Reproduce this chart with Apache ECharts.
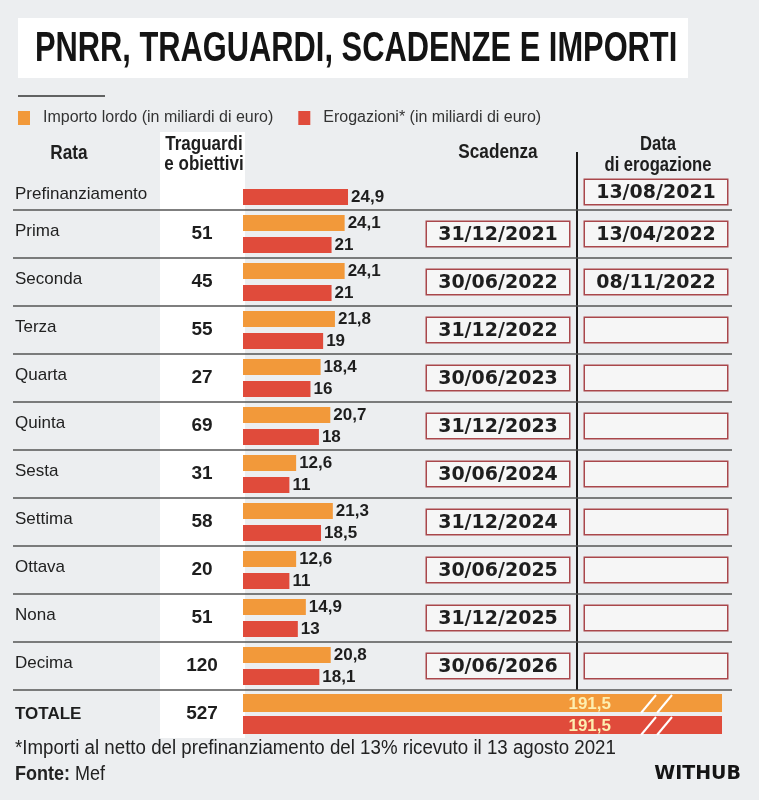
<!DOCTYPE html>
<html><head><meta charset="utf-8">
<script src="https://cdn.jsdelivr.net/npm/echarts@6/dist/echarts.min.js"></script>
<style>html,body{margin:0;padding:0;background:#eceef0}#c{width:759px;height:800px}</style>
</head><body><div id="c"></div>
<script>
// ---- data ----
const rate = ['Prefinanziamento','Prima','Seconda','Terza','Quarta','Quinta','Sesta','Settima','Ottava','Nona','Decima'];
const traguardi = [null,51,45,55,27,69,31,58,20,51,120];
const importoLordo = [null,24.1,24.1,21.8,18.4,20.7,12.6,21.3,12.6,14.9,20.8];
const erogazioni = [24.9,21,21,19,16,18,11,18.5,11,13,18.1];
const scadenze = ['','31/12/2021','30/06/2022','31/12/2022','30/06/2023','31/12/2023','30/06/2024','31/12/2024','30/06/2025','31/12/2025','30/06/2026'];
const dateErogazione = ['13/08/2021','13/04/2022','08/11/2022','','','','','','','',''];
const totaleRata = ['TOTALE'];
const totaleTraguardi = [527];
const totaleImporto = [191.5];
const totaleErogazioni = [191.5];
const serieNames = ['Importo lordo (in miliardi di euro)','Erogazioni* (in miliardi di euro)'];

// ---- style ----
const SANS = '"Liberation Sans",Arial,sans-serif';
const WIDE = '"DejaVu Sans",sans-serif';
const ORANGE = '#f2993a';
const RED = '#e04b3b';
const INK = '#1e1e1e';
const comma = v => (v == null ? '' : String(v).replace('.', ','));

const chart = echarts.init(document.getElementById('c'));
const boxStyle = {width: 138, height: 21, borderColor: '#a9474b', borderWidth: 1.5, backgroundColor: '#f6f6f6',
  align: 'center', fontFamily: WIDE, fontWeight: 'bold', fontSize: 19, color: INK, padding: [3,2,0,2]};
const boxRich = {box: boxStyle, g: {height: 12, fontSize: 1, lineHeight: 12}};
const catAxis = (grid, data, extra) => Object.assign({
  type: 'category', gridIndex: grid, data: data, inverse: true,
  axisLine: {show: false}, axisTick: {show: false}, splitLine: {show: false}
}, extra);
const barLabel = {show: true, position: 'right', distance: 3, fontFamily: SANS, fontWeight: 'bold', fontSize: 17, color: INK,
  formatter: p => comma(p.value)};
const totLabel = {show: true, position: 'insideRight', offset: [-106, 1], fontFamily: SANS, fontWeight: 'bold', fontSize: 17, color: '#fdeeb0',
  formatter: p => comma(p.value)};

const option = {
  backgroundColor: '#eceef0',
  animation: false,
  legend: {
    left: 13, top: 105, itemWidth: 12, itemHeight: 14, itemGap: 25, icon: 'rect',
    data: serieNames,
    textStyle: {fontFamily: SANS, fontSize: 16, color: '#333', padding: [0,0,0,8]}
  },
  grid: [
    {left: 243, right: 31, top: 162, bottom: 110},
    {left: 13, right: 27, top: 210, bottom: 110},
    {left: 243, right: 37, top: 690, height: 48}
  ],
  xAxis: [
    {type: 'value', gridIndex: 0, min: 0, max: 115, show: false},
    {type: 'value', gridIndex: 1, min: 0, max: 1, show: false},
    {type: 'value', gridIndex: 2, min: 0, max: 191.5, show: false}
  ],
  yAxis: [
    catAxis(0, rate, {position: 'left', axisLabel: {margin: 228, align: 'left', fontFamily: SANS, fontSize: 17, color: '#222', padding: [0,0,6,0],
      rich: {g: {height: 22, fontSize: 1, lineHeight: 22}, p: {fontFamily: SANS, fontSize: 17, color: '#222'}},
      formatter: (v, i) => i === 0 ? '{g|\u00a0}\n{p|' + v + '}' : v}}),
    catAxis(0, rate, {position: 'left', axisLabel: {margin: 41, align: 'center', fontFamily: SANS, fontWeight: 'bold', fontSize: 19, color: INK,
      formatter: (v, i) => traguardi[i] == null ? '' : String(traguardi[i])}}),
    catAxis(0, rate, {position: 'right', offset: -230, axisLabel: {margin: 0, align: 'center', rich: boxRich,
      formatter: (v, i) => scadenze[i] ? '{box|' + scadenze[i] + '}' : ''}}),
    catAxis(0, rate, {position: 'right', offset: -72, axisLabel: {margin: 0, align: 'center', rich: boxRich,
      formatter: (v, i) => (i === 0 ? '{g|\u00a0}\n' : '') + '{box|' + (dateErogazione[i] || '\u00a0') + '}'}}),
    catAxis(1, rate.slice(1), {splitLine: {show: true, lineStyle: {color: '#555', width: 1.5}}, axisLabel: {show: false}}),
    catAxis(2, totaleRata, {position: 'left', axisLabel: {margin: 228, align: 'left', fontFamily: SANS, fontWeight: 'bold', fontSize: 17, color: INK, padding: [0,0,4,0]}}),
    catAxis(2, totaleRata, {position: 'left', axisLabel: {margin: 41, align: 'center', fontFamily: SANS, fontWeight: 'bold', fontSize: 19, color: INK,
      formatter: (v, i) => String(totaleTraguardi[i])}})
  ],
  series: [
    {name: serieNames[0], type: 'bar', xAxisIndex: 0, yAxisIndex: 0, data: importoLordo, barWidth: 16, barGap: '38%',
     itemStyle: {color: ORANGE}, label: barLabel},
    {name: serieNames[1], type: 'bar', xAxisIndex: 0, yAxisIndex: 0, data: erogazioni, barWidth: 16,
     itemStyle: {color: RED}, label: barLabel},
    {name: serieNames[0], type: 'bar', xAxisIndex: 2, yAxisIndex: 5, data: totaleImporto, barWidth: 18, barGap: '22%',
     itemStyle: {color: ORANGE}, label: totLabel},
    {name: serieNames[1], type: 'bar', xAxisIndex: 2, yAxisIndex: 5, data: totaleErogazioni, barWidth: 18,
     itemStyle: {color: RED}, label: totLabel}
  ],
  graphic: [
    {type: 'rect', z: -5, shape: {x: 18, y: 18, width: 670, height: 60}, style: {fill: '#ffffff'}},
    {type: 'text', z: 10, x: 35, y: 49, scaleX: 0.734, style: {text: 'PNRR, TRAGUARDI, SCADENZE E IMPORTI', fontFamily: SANS, fontWeight: 'bold', fontSize: 42, fill: '#141414', align: 'left', verticalAlign: 'middle'}},
    {type: 'line', shape: {x1: 18, y1: 96, x2: 105, y2: 96}, style: {stroke: '#333', lineWidth: 1.5}},
    {type: 'rect', z: -5, shape: {x: 160, y: 132, width: 85, height: 606}, style: {fill: '#ffffff'}},
    {type: 'text', x: 69, y: 153, scaleX: 0.86, style: {text: 'Rata', fontFamily: SANS, fontWeight: 'bold', fontSize: 20, fill: INK, align: 'center', verticalAlign: 'middle'}},
    {type: 'text', x: 204, y: 154, scaleX: 0.85, style: {text: 'Traguardi\ne obiettivi', fontFamily: SANS, fontWeight: 'bold', fontSize: 20, lineHeight: 20, fill: INK, align: 'center', verticalAlign: 'middle'}},
    {type: 'text', x: 498, y: 152, scaleX: 0.86, style: {text: 'Scadenza', fontFamily: SANS, fontWeight: 'bold', fontSize: 20, fill: INK, align: 'center', verticalAlign: 'middle'}},
    {type: 'text', x: 658, y: 155, scaleX: 0.83, style: {text: 'Data\ndi erogazione', fontFamily: SANS, fontWeight: 'bold', fontSize: 20, lineHeight: 21, fill: INK, align: 'center', verticalAlign: 'middle'}},
    {type: 'line', shape: {x1: 577, y1: 152, x2: 577, y2: 690}, style: {stroke: '#1a1a1a', lineWidth: 2}},
    {type: 'polyline', z: 10, shape: {points: [[641, 713], [656, 695]]}, style: {stroke: '#fff', lineWidth: 2}},
    {type: 'polyline', z: 10, shape: {points: [[657, 713], [672, 695]]}, style: {stroke: '#fff', lineWidth: 2}},
    {type: 'polyline', z: 10, shape: {points: [[641, 735], [656, 717]]}, style: {stroke: '#fff', lineWidth: 2}},
    {type: 'polyline', z: 10, shape: {points: [[657, 735], [672, 717]]}, style: {stroke: '#fff', lineWidth: 2}},
    {type: 'text', x: 15, y: 748, scaleX: 0.935, style: {text: '*Importi al netto del prefinanziamento del 13% ricevuto il 13 agosto 2021', fontFamily: SANS, fontSize: 20, fill: '#222', align: 'left', verticalAlign: 'middle'}},
    {type: 'text', x: 15, y: 774, scaleX: 0.9, style: {text: '{b|Fonte:} Mef', fontFamily: SANS, fontSize: 20, fill: '#222', align: 'left', verticalAlign: 'middle', rich: {b: {fontFamily: SANS, fontWeight: 'bold', fontSize: 20, fill: '#222'}}}},
    {type: 'text', x: 741, y: 774, style: {text: 'WITHUB', fontFamily: WIDE, fontWeight: 'bold', fontSize: 19, fill: '#141414', align: 'right', verticalAlign: 'middle'}}
  ]
};
chart.setOption(option);
</script></body></html>
